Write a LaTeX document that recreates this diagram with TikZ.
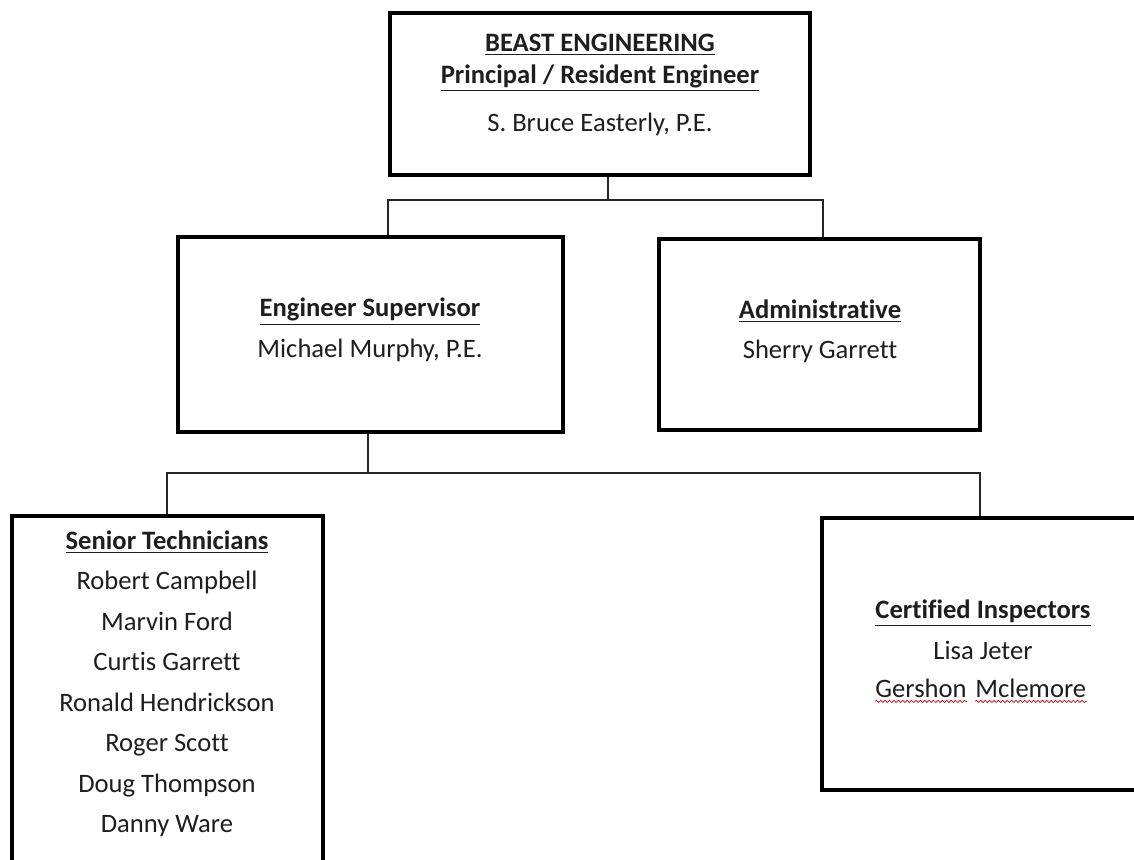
\documentclass[tikz,border=0pt]{standalone}
\usepackage{fontspec}
\setmainfont[Ligatures={NoCommon,NoRare}]{Carlito}
\usetikzlibrary{decorations.pathmorphing}
\definecolor{ink}{HTML}{1E1E1E}
\begin{document}
\begin{tikzpicture}[x=0.5pt,y=-0.5pt,
  box/.style={draw=black, line width=2pt, rectangle, inner sep=0pt},
  conn/.style={draw=black!85, line width=0.7pt},
  txt/.style={align=center, text=ink, font=\fontsize{13.3}{20.25}\selectfont},
  wave/.style={draw=red!85!black, line width=0.35pt, decorate, decoration={snake, amplitude=0.55pt, segment length=2.2pt}}]
\clip (0,0) rectangle (1134,859);
% boxes
\node[box, minimum width=210pt, minimum height=81pt] (top) at (600,94) {};
\node[box, minimum width=192.5pt, minimum height=97.5pt] (eng) at (370.5,334.5) {};
\node[box, minimum width=160.5pt, minimum height=95.5pt] (admin) at (819.5,334.5) {};
\node[box, minimum width=155.5pt, minimum height=192pt] (senior) at (167.5,708) {};
\node[box, minimum width=179pt, minimum height=136pt] (cert) at (1001,654) {};
% texts
\node[txt, font=\fontsize{13.3}{16}\selectfont] (toptxt) at (600,85)
  {\underline{\textbf{BEAST ENGINEERING}}\\\underline{\textbf{Principal / Resident Engineer}}\\[8pt]S. Bruce Easterly, P.E.};
\node[txt] (engtxt) at (370,330) {\underline{\textbf{Engineer Supervisor}}\\Michael Murphy, P.E.};
\node[txt] (admintxt) at (820,331.5) {\underline{\textbf{Administrative}}\\Sherry Garrett};
\node[txt] (seniortxt) at (167,684) {\underline{\textbf{Senior Technicians}}\\Robert Campbell\\Marvin Ford\\Curtis Garrett\\Ronald Hendrickson\\Roger Scott\\Doug Thompson\\Danny Ware};
\node[txt] (certtxt) at (983,629.5) {\underline{\textbf{Certified Inspectors}}\\Lisa Jeter};
\node[txt, inner sep=0pt, anchor=base east] (gw1) at (967,697) {Gershon};
\node[txt, inner sep=0pt, anchor=base west] (gw2) at (975,697) {Mclemore};
\draw[wave] ([yshift=-2.2pt]gw1.base west) -- ([yshift=-2.2pt]gw1.base east);
\draw[wave] ([yshift=-2.2pt]gw2.base west) -- ([yshift=-2.2pt]gw2.base east);
% connectors
\coordinate (j1) at (608,200);
\coordinate (a1) at (388,200);
\coordinate (b1) at (823,200);
\draw[conn] (top.south -| j1) -- (j1);
\draw[conn] (eng.north -| a1) -- (a1) -- (b1) -- (admin.north -| b1);
\coordinate (j2) at (368,473);
\coordinate (c2) at (167,473);
\coordinate (d2) at (980,473);
\draw[conn] (eng.south -| j2) -- (j2);
\draw[conn] (senior.north -| c2) -- (c2) -- (d2) -- (cert.north -| d2);
\end{tikzpicture}
\end{document}
